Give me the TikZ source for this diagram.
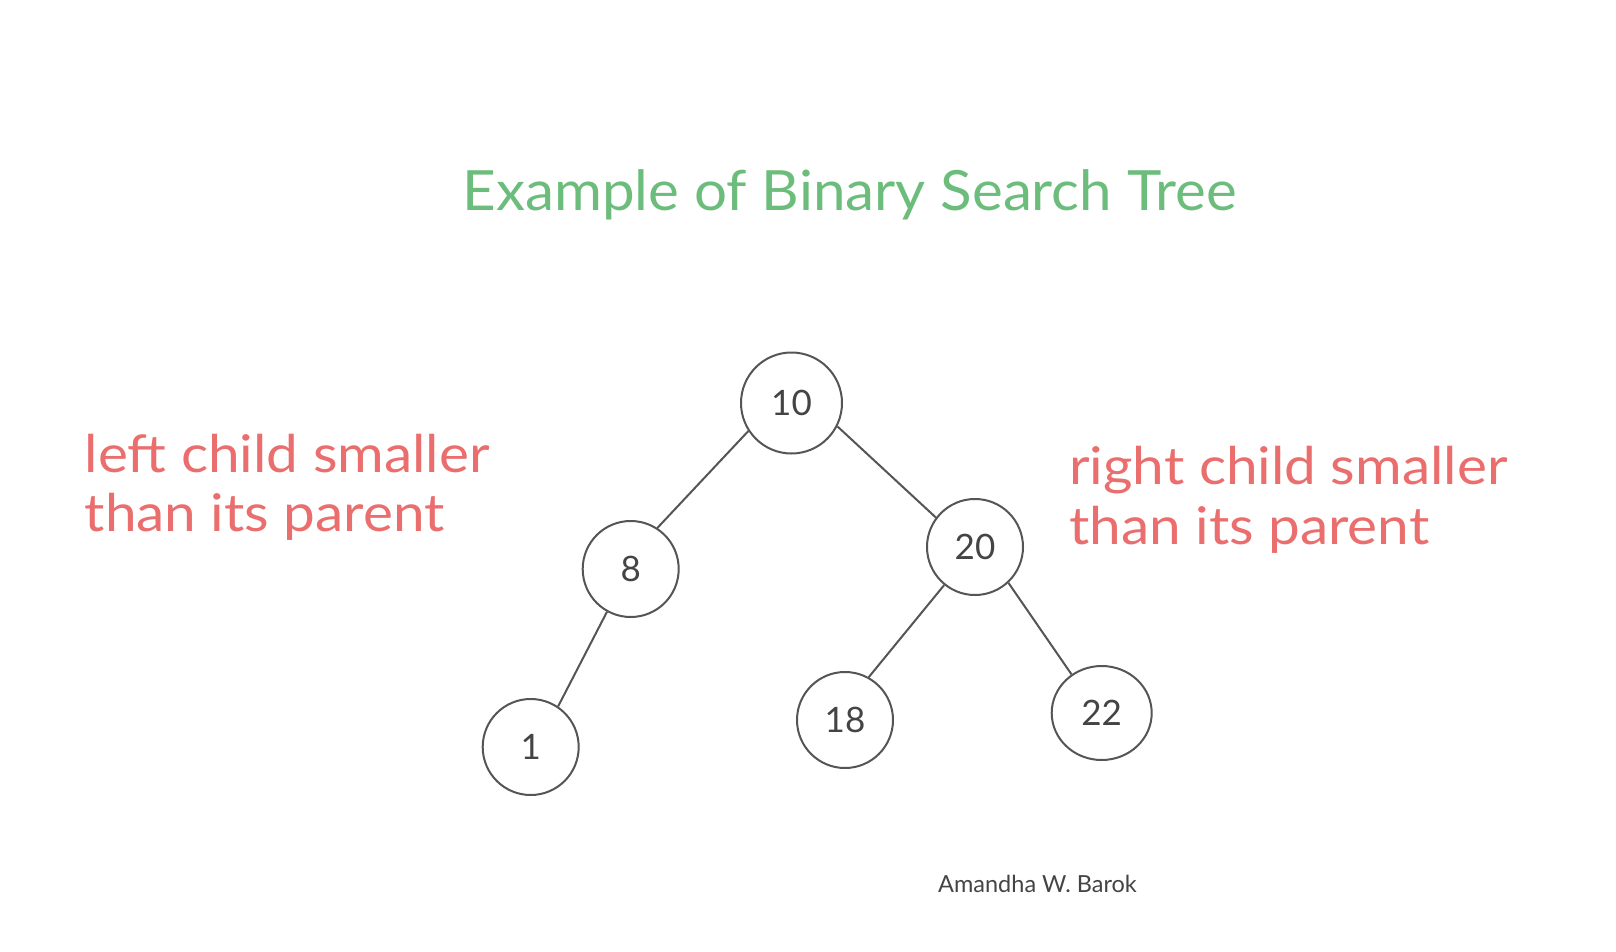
\documentclass[tikz,border=0pt]{standalone}
\usepackage{fontspec}
\usetikzlibrary{shapes.geometric}
\setmainfont{Lato}
\newfontfamily\notefont{Lato}[FakeStretch=1.09]
\newfontfamily\titlefont{Lato}[FakeStretch=1.05]
\definecolor{titlegreen}{HTML}{6CBD7C}
\definecolor{notered}{HTML}{EB6E6E}
\definecolor{inkgray}{HTML}{555555}
\definecolor{numgray}{HTML}{444444}
\begin{document}
\begin{tikzpicture}[x=1pt,y=-1pt,
  bstnode/.style={circle,draw=inkgray,line width=2pt,minimum size=96pt,inner sep=0pt,
    text=numgray,font=\fontsize{35}{40}\selectfont},
  edge/.style={draw=inkgray,line width=2pt},
  notetext/.style={text=notered,anchor=base west,inner sep=0pt,font=\notefont\fontsize{52}{60}\selectfont},
  titletext/.style={text=titlegreen,anchor=base,inner sep=0pt,font=\titlefont\fontsize{55.5}{64}\selectfont},
  authortext/.style={text=numgray,anchor=base west,inner sep=0pt,font=\fontsize{23.5}{28}\selectfont}]
\useasboundingbox[fill=white] (0,0) rectangle (1616,952);

\node[titletext] (title) at (849.5,211) {Example of Binary Search Tree};

\node[bstnode,minimum size=101pt] (n10) at (791.5,403) {10};
\node[bstnode] (n8) at (630.7,569) {8};
\node[bstnode] (n20) at (975,547) {20};
\node[bstnode] (n1) at (530.7,747) {1};
\node[bstnode] (n18) at (845,720) {18};
\node[bstnode,ellipse,minimum width=100pt,minimum height=94pt] (n22) at (1101.7,713) {22};

\draw[edge] (n10.-147.5) -- (n8.57.6);
\draw[edge] (n10.-27.8) -- (n20.143.8);
\draw[edge] (n8.-119.3) -- (n1.56.5);
\draw[edge] (n20.-129.1) -- (n18.61.5);
\draw[edge] (n20.-47) -- (n22.128.3);

\node[notetext] (leftA) at (84.5,472) {left child smaller};
\node[notetext] (leftB) at (84.5,531) {than its parent};
\node[notetext] (rightA) at (1069,484) {right child smaller};
\node[notetext] (rightB) at (1069,544) {than its parent};

\node[authortext] (author) at (938,892) {Amandha W. Barok};
\end{tikzpicture}
\end{document}
